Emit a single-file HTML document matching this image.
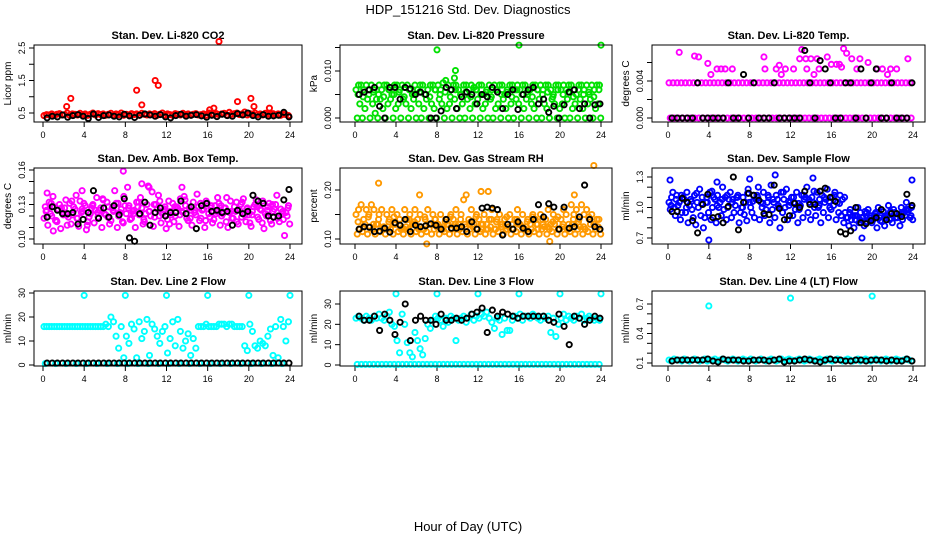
<!DOCTYPE html>
<html><head><meta charset="utf-8"><style>
body{margin:0;background:#fff;}
svg{display:block;font-family:"Liberation Sans",sans-serif;}
</style></head><body>
<svg id="chart" width="936" height="540" viewBox="0 0 936 540">
<rect width="936" height="540" fill="#fff"/>
<text x="468" y="14" text-anchor="middle" font-size="13">HDP_151216  Std. Dev. Diagnostics</text>
<text x="468" y="531" text-anchor="middle" font-size="13">Hour of Day (UTC)</text>
</svg>
<script>
// ---------- data ----------
const xTicks = [0,4,8,12,16,20,24];

const co2Main = [0.42,0.45,0.44,0.47,0.43,0.46,0.48,0.44,0.45,0.5,0.43,0.47,0.46,0.44,0.49,0.45,0.47,0.43,0.46,0.5,0.44,0.48,0.45,0.47,0.43,0.46,0.49,0.44,0.47,0.45,0.5,0.43,0.46,0.44,0.48,0.45,0.47,0.43,0.49,0.46,0.44,0.47,0.45,0.48,0.43,0.46,0.5,0.44,0.47,0.45,0.43,0.48,0.46,0.44,0.49,0.45,0.47,0.43,0.46,0.48,0.44,0.45,0.47,0.43,0.5,0.46,0.44,0.48,0.45,0.47,0.49,0.44,0.52,0.46,0.48,0.5,0.45,0.47,0.53,0.44,0.48,0.46,0.5,0.45,0.47,0.44,0.49,0.46,0.45,0.48,0.44,0.47,0.43,0.46,0.45,0.42];
const co2Black = [0.35,0.4,0.38,0.44,0.37,0.42,0.45,0.4,0.33,0.47,0.36,0.42,0.44,0.4,0.38,0.46,0.41,0.36,0.43,0.47,0.44,0.4,0.45,0.38,0.35,0.42,0.46,0.4,0.43,0.45,0.41,0.37,0.43,0.39,0.46,0.42,0.4,0.48,0.44,0.5,0.42,0.38,0.45,0.4,0.41,0.43,0.52,0.38];
const co2OutX = [2.3,2.7,9.1,9.6,10.9,11.2,17.1,16.6,20.2,18.9,22.0,20.5,16.2];
const co2OutY = [0.7,0.95,1.2,0.75,1.5,1.35,2.7,0.65,0.95,0.85,0.65,0.7,0.6];

const presA = [0.006,0.007,0.007,0.006,0.007,0.005,0.007,0.006,0.004,0.007,0.006,0.007,0.007,0.006,0.005,0.007,0.007,0.006,0.007,0.0065,0.007,0.006,0.005,0.007,0.006,0.007,0.007,0.005,0.006,0.007,0.007,0.006,0.007,0.006,0.0075,0.008,0.007,0.006,0.007,0.007,0.006,0.005,0.007,0.007,0.006,0.007,0.0065,0.006,0.007,0.007,0.005,0.006,0.007,0.006,0.007,0.006,0.007,0.007,0.005,0.006,0.007,0.007,0.006,0.007,0.006,0.007,0.007,0.005,0.006,0.007,0.007,0.006,0.007,0.006,0.007,0.007,0.006,0.005,0.007,0.007,0.006,0.007,0.006,0.007,0.007,0.006,0.005,0.007,0.007,0.006,0.007,0.005,0.007,0.006,0.007,0.007];
const presB = [0,0.003,0,0.002,0.004,0,0.003,0.001,0,0.004,0.002,0,0.003,0.004,0,0.002,0.003,0,0.004,0.003,0,0.002,0.004,0,0.003,0,0.002,0.004,0,0.003,0.002,0,0.004,0.003,0,0.002,0.003,0,0.004,0.002,0,0.003,0,0.004,0.002,0,0.003,0.004,0,0.002,0.003,0,0.004,0,0.002,0.003,0,0.004,0.002,0,0.003,0,0.004,0.003,0,0.002,0.004,0,0.003,0.002,0,0.004,0,0.003,0.002,0,0.004,0.003,0,0.002,0.003,0,0.004,0,0.002,0.003,0,0.004,0.002,0,0.003,0.004,0,0.002,0.003,0];
const presC = [0.005,0.0045,0.006,0.0055,0.005,0.0045,0.006,0.005,0.0055,0.0045,0.006,0.005,0.0055,0.005,0.0045,0.006,0.005,0.0055,0.0045,0.006,0.005,0.0055,0.0045,0.006,0.005,0.0055,0.0045,0.006,0.005,0.0055,0.0045,0.006,0.005,0.0055,0.0045,0.006,0.005,0.0055,0.0045,0.006,0.005,0.0055,0.0045,0.006,0.005,0.0055,0.0045,0.006];
const presBlack = [0.005,0.0055,0.006,0.0065,0.0025,0,0.0065,0.0065,0.004,0.0065,0.0062,0.005,0.0055,0.005,0,0,0.0015,0.0065,0.006,0.002,0.0045,0.0055,0.005,0.003,0.005,0.0045,0.0065,0.0055,0.002,0.005,0.006,0.0018,0.005,0.006,0.0065,0.003,0.004,0.0012,0.0025,0,0.0028,0.0055,0.006,0.002,0.003,0,0.0028,0.003];
const presOutX = [8.0,16.0,24.0,9.8,9.7];
const presOutY = [0.0145,0.0155,0.0155,0.0101,0.0085];

const tempA = [0.0038,0.0038,0.0038,0.0038,0.0038,0.0038,0.0038,0.0038,0.0038,0.0038,0.0038,0.0038,0.0038,0.0038,0.0038,0.0038,0.0038,0.0038,0.0038,0.0038,0.0038,0.0038,0.0038,0.0038,0.0038,0.0038,0.0038,0.0038,0.0038,0.0038,0.0038,0.0038,0.0038,0.0038,0.0038,0.0038,0.0038,0.0038,0.0038,0.0038,0.0038,0.0038,0.0038,0.0038,0.0038,0.0038,0.0038,0.0038,0.0038,0.0038,0.0038,0.0038,0.0038,0.0038,0.0038,0.0038,0.0038,0.0038,0.0038,0.0038];
const tempB = [0,0,0,0,0,0,0,0,0,0,0,0,0,0,0,0,0,0,0,0,0,0,0,0,0,0,0,0,0,0,0,0,0,0,0,0,0,0,0,0,0,0,0,0,0,0,0,0,0,0,0,0,0,0,0,0,0,0,0,0];
const tempBlack = [0,0,0,0,0,0.0038,0,0,0,0,0,0.0038,0,0,0.0047,0,0.0038,0,0,0,0.0038,0,0,0,0,0,0.0073,0.0038,0,0.0062,0.0053,0.0038,0,0,0.0038,0.0038,0,0.0053,0,0.0038,0.0053,0,0,0.0038,0,0,0,0.0038];
const tempOutX = [1.1,2.6,3.0,3.9,4.8,5.2,5.6,6.3,4.2,9.4,9.5,10.6,11.1,10.9,11.5,12.3,13.1,12.9,13.5,14.0,14.6,13.6,14.8,14.3,15.6,16.0,16.5,17.2,17.5,18.0,18.8,18.5,19.6,20.5,21.0,21.8,22.4,23.5,21.5,17.0,16.8];
const tempOutY = [0.0071,0.0067,0.0066,0.0059,0.0053,0.0053,0.0053,0.0053,0.0047,0.0066,0.0053,0.0053,0.0047,0.0057,0.0053,0.0053,0.0074,0.0064,0.0064,0.0064,0.0064,0.0053,0.0053,0.0047,0.0066,0.0058,0.0058,0.0075,0.0070,0.0064,0.0064,0.0053,0.0060,0.0053,0.0053,0.0053,0.0053,0.0064,0.0047,0.0055,0.0058];

const ambA = [0.118,0.125,0.132,0.12,0.128,0.115,0.13,0.123,0.127,0.112,0.131,0.121,0.126,0.118,0.133,0.124,0.129,0.115,0.122,0.13,0.125,0.119,0.127,0.134,0.121,0.128,0.116,0.124,0.131,0.12,0.126,0.137,0.122,0.129,0.118,0.125,0.132,0.121,0.127,0.115,0.13,0.124,0.141,0.119,0.126,0.133,0.122,0.128,0.117,0.124,0.131,0.12,0.127,0.135,0.123,0.129,0.116,0.125,0.132,0.121,0.128,0.118,0.126,0.133,0.122,0.129,0.117,0.124,0.131,0.12,0.127,0.136,0.123,0.118,0.128,0.115,0.125,0.132,0.121,0.127,0.114,0.124,0.13,0.119,0.126,0.133,0.122,0.128,0.116,0.124,0.13,0.12,0.126,0.117,0.123,0.129];
const ambB = [0.128,0.112,0.122,0.137,0.116,0.126,0.109,0.121,0.134,0.119,0.113,0.128,0.138,0.111,0.123,0.131,0.108,0.119,0.127,0.114,0.136,0.125,0.11,0.122,0.132,0.113,0.127,0.142,0.11,0.123,0.115,0.129,0.145,0.117,0.124,0.11,0.128,0.136,0.113,0.122,0.146,0.12,0.111,0.13,0.138,0.114,0.125,0.109,0.133,0.121,0.115,0.128,0.111,0.124,0.137,0.118,0.127,0.112,0.123,0.139,0.116,0.125,0.11,0.131,0.119,0.114,0.129,0.136,0.112,0.122,0.127,0.11,0.133,0.118,0.124,0.113,0.13,0.135,0.115,0.121,0.111,0.128,0.134,0.117,0.125,0.109,0.12,0.131,0.113,0.126,0.138,0.115,0.122,0.103,0.12,0.113];
const ambC = [0.124,0.131,0.116,0.127,0.121,0.133,0.118,0.126,0.112,0.129,0.123,0.135,0.119,0.125,0.131,0.114,0.127,0.122,0.132,0.117,0.124,0.13,0.12,0.126,0.113,0.128,0.121,0.134,0.118,0.125,0.131,0.116,0.127,0.122,0.129,0.115,0.124,0.132,0.119,0.126,0.121,0.128,0.114,0.125,0.13,0.118,0.124,0.127];
const ambBlack = [0.119,0.128,0.125,0.122,0.122,0.123,0.113,0.117,0.123,0.142,0.118,0.127,0.119,0.129,0.121,0.135,0.101,0.098,0.122,0.132,0.112,0.123,0.127,0.12,0.123,0.123,0.133,0.122,0.128,0.109,0.129,0.131,0.124,0.125,0.123,0.124,0.112,0.125,0.122,0.124,0.138,0.133,0.131,0.12,0.119,0.12,0.134,0.143];
const ambOutX = [7.8,9.6,3.8,10.3,13.5,0.4,1.0];
const ambOutY = [0.159,0.148,0.142,0.145,0.145,0.14,0.107];

const rhA = [0.15,0.16,0.17,0.14,0.16,0.15,0.17,0.16,0.13,0.15,0.16,0.12,0.15,0.14,0.16,0.13,0.15,0.14,0.12,0.16,0.14,0.15,0.13,0.16,0.14,0.15,0.12,0.14,0.16,0.13,0.15,0.14,0.13,0.15,0.12,0.14,0.13,0.15,0.14,0.16,0.13,0.15,0.18,0.19,0.14,0.16,0.13,0.15,0.14,0.12,0.15,0.13,0.14,0.16,0.12,0.14,0.15,0.13,0.14,0.12,0.15,0.13,0.14,0.16,0.13,0.15,0.12,0.14,0.13,0.15,0.14,0.12,0.15,0.13,0.14,0.16,0.13,0.15,0.14,0.12,0.14,0.16,0.15,0.13,0.17,0.15,0.16,0.14,0.17,0.15,0.16,0.14,0.15,0.13,0.14,0.12];
const rhB = [0.11,0.12,0.115,0.13,0.11,0.125,0.12,0.11,0.13,0.115,0.12,0.11,0.125,0.12,0.11,0.13,0.115,0.12,0.11,0.125,0.12,0.11,0.13,0.115,0.12,0.11,0.12,0.115,0.13,0.11,0.12,0.125,0.11,0.12,0.115,0.13,0.11,0.12,0.125,0.11,0.12,0.115,0.13,0.11,0.12,0.125,0.11,0.12,0.115,0.13,0.11,0.12,0.125,0.11,0.12,0.115,0.13,0.11,0.12,0.125,0.11,0.12,0.115,0.13,0.11,0.12,0.125,0.11,0.12,0.115,0.13,0.11,0.12,0.125,0.11,0.12,0.115,0.13,0.11,0.12,0.125,0.11,0.12,0.115,0.13,0.11,0.12,0.125,0.11,0.12,0.115,0.13,0.11,0.12,0.125,0.11];
const rhC = [0.135,0.125,0.145,0.13,0.14,0.125,0.135,0.145,0.13,0.12,0.14,0.135,0.125,0.145,0.13,0.14,0.125,0.135,0.145,0.13,0.14,0.125,0.135,0.145,0.13,0.12,0.14,0.135,0.125,0.145,0.13,0.14,0.125,0.135,0.145,0.13,0.14,0.125,0.135,0.145,0.13,0.12,0.14,0.135,0.125,0.145,0.13,0.14];
const rhBlack = [0.12,0.125,0.124,0.115,0.116,0.122,0.114,0.133,0.128,0.14,0.115,0.128,0.125,0.127,0.131,0.128,0.12,0.14,0.122,0.122,0.125,0.115,0.135,0.12,0.163,0.165,0.163,0.16,0.108,0.13,0.12,0.135,0.122,0.115,0.14,0.17,0.145,0.172,0.165,0.12,0.165,0.122,0.125,0.145,0.21,0.14,0.125,0.12];
const rhOutX = [2.3,23.3,12.3,13.0,6.3,21.4,7.0,19.0];
const rhOutY = [0.214,0.25,0.197,0.197,0.19,0.19,0.09,0.095];

const flowA = [1.05,1.1,1.0,1.12,1.05,0.95,1.08,1.15,1.02,0.98,1.12,1.05,1.18,1.1,0.9,1.05,1.15,1.0,1.08,1.12,1.05,1.2,1.1,1.0,1.15,1.08,1.02,1.12,0.95,1.1,1.05,1.18,1.0,1.12,1.08,1.2,1.05,1.15,0.98,1.1,1.22,1.05,1.12,1.0,1.15,1.08,1.18,1.02,1.1,1.05,1.15,0.98,1.12,1.08,1.2,1.05,1.1,1.0,1.15,1.08,1.12,1.05,1.18,1.0,1.1,1.15,1.05,1.12,1.08,0.95,0.9,0.98,0.92,0.88,1.0,0.95,0.9,0.85,0.98,0.92,0.88,0.95,1.0,0.92,0.96,0.9,1.02,0.95,0.98,0.9,0.93,1.0,0.95,1.05,0.98,1.0];
const flowB = [0.98,1.15,0.92,1.02,0.88,1.1,0.95,0.85,1.08,0.9,0.83,1.0,0.92,0.8,1.05,0.95,0.88,1.1,0.85,1.0,0.92,0.98,0.88,1.08,0.9,0.95,1.1,0.85,1.0,0.93,0.87,1.05,0.95,0.9,1.12,0.88,1.0,0.92,1.05,0.85,0.98,0.9,1.08,0.8,0.95,1.0,0.88,1.05,0.92,0.98,0.85,1.02,0.9,1.1,0.95,0.88,1.05,0.92,1.0,0.85,0.95,1.08,0.9,0.98,1.02,0.88,0.95,0.92,0.85,0.9,0.82,0.88,0.8,0.92,0.85,0.9,0.82,0.95,0.88,0.85,0.92,0.8,0.9,0.86,0.82,0.92,0.88,0.85,0.95,0.9,0.82,0.88,0.92,0.98,0.9,0.88];
const flowC = [1.02,1.08,1.12,1.0,1.06,1.14,1.04,1.1,1.16,1.02,1.08,1.12,1.05,1.1,1.0,1.14,1.06,1.1,1.04,1.12,1.08,1.02,1.15,1.06,1.1,1.04,1.12,1.08,1.16,1.02,1.1,1.06,1.12,1.04,1.1,0.95,0.92,0.88,0.96,0.9,0.94,0.87,0.92,0.96,0.9,0.94,0.98,0.92];
const flowBlack = [0.96,0.96,1.09,1.05,0.87,0.75,1.03,1.13,0.9,0.91,0.85,1.01,1.3,0.78,1.05,1.14,1.12,1.07,0.94,0.93,1.22,0.99,0.88,0.92,1.04,1.0,1.16,1.03,1.03,1.16,1.19,1.1,1.06,0.76,0.74,0.77,1.0,0.85,0.84,0.87,0.9,0.98,0.88,0.94,0.94,0.91,1.13,1.02];
const flowOutX = [0.2,4.8,10.5,14.2,23.9,4.0,8.0,19.0];
const flowOutY = [1.27,1.25,1.32,1.29,1.27,0.68,1.28,0.7];

const l2A = [16,16,16,16,16,16,16,16,16,16,16,16,16,16,16,16,16,16,16,16,16,16,16,16,17,16,20,18,12,7,16,3,12,9,17,15,3,18,11,14,19,4,17,15,12,9,14,16,5,11,18,8,19,14,7,10,13,4,11,7,16,16,16,17,16,16,16,16,17,17,17,16,17,17,16,16,16,16,8,6,17,14,8,7,10,9,8,12,15,4,16,3,19,16,10,18];
const l2Zero = [0.6,0.6,0.6,0.6,0.6,0.6,0.6,0.6,0.6,0.6,0.6,0.6,0.6,0.6,0.6,0.6,0.6,0.6,0.6,0.6,0.6,0.6,0.6,0.6];
const l2Black = [0.8,0.8,0.8,0.8,0.8,0.8,0.8,0.8,0.8,0.8,0.8,0.8,0.8,0.8,0.8,0.8,0.8,0.8,0.8,0.8,0.8,0.8,0.8,0.8,0.8,0.8,0.8,0.8,0.8,0.8,0.8,0.8,0.8,0.8,0.8,0.8,0.8,0.8,0.8,0.8,0.8,0.8,0.8,0.8,0.8,0.8,0.8,0.8];
const l2OutX = [4,8,12,16,20,24];
const l2OutY = [29,29,29,29,29,29];

const l3A = [23,24,23,22,24,23,22,24,23,25,23,22,24,26,20,19,12,6,25,20,11,6,4,16,12,8,5,13,20,18,22,24,23,22,19,23,21,24,23,12,22,23,24,21,23,25,22,24,23,25,24,26,23,21,18,23,22,15,23,17,17,22,24,23,25,22,24,24,23,25,24,23,22,24,23,24,16,23,14,20,23,25,22,24,23,22,24,23,25,22,23,24,23,22,23,22];
const l3Zero = [0.3,0.3,0.3,0.3,0.3,0.3,0.3,0.3,0.3,0.3,0.3,0.3,0.3,0.3,0.3,0.3,0.3,0.3,0.3,0.3,0.3,0.3,0.3,0.3,0.3,0.3,0.3,0.3,0.3,0.3,0.3,0.3,0.3,0.3,0.3,0.3,0.3,0.3,0.3,0.3,0.3,0.3,0.3,0.3,0.3,0.3,0.3,0.3,0.3,0.3,0.3,0.3,0.3,0.3,0.3,0.3,0.3,0.3,0.3,0.3];
const l3Black = [24,22,22,24,17,25,22,15,21,30,12,22,24,22,22,20,25,22,22,23,22,23,25,26,28,16,27,24,26,25,24,23,24,24,24,24,24,22,21,25,19,10,24,23,20,22,24,23];
const l3OutX = [4,8,12,16,20,24];
const l3OutY = [35,35,35,35,35,35];

const l4A = [0.13,0.12,0.14,0.13,0.13,0.12,0.14,0.13,0.12,0.13,0.14,0.13,0.12,0.13,0.14,0.12,0.13,0.13,0.14,0.12,0.13,0.14,0.13,0.12,0.13,0.14,0.13,0.12,0.13,0.14,0.13,0.12,0.14,0.13,0.12,0.13,0.14,0.13,0.12,0.13,0.14,0.13,0.12,0.13,0.14,0.12,0.13,0.14,0.13,0.12,0.13,0.14,0.13,0.12,0.13,0.14,0.13,0.12,0.13,0.14,0.13,0.12,0.14,0.13,0.12,0.13,0.14,0.13,0.12,0.13,0.14,0.13,0.12,0.13,0.14,0.12,0.13,0.14,0.13,0.12,0.13,0.14,0.13,0.12,0.13,0.14,0.13,0.12,0.13,0.14,0.13,0.12,0.13,0.14,0.13,0.12];
const l4Black = [0.12,0.13,0.13,0.13,0.13,0.13,0.13,0.14,0.12,0.11,0.14,0.13,0.13,0.13,0.12,0.12,0.13,0.13,0.13,0.12,0.13,0.14,0.11,0.12,0.12,0.13,0.14,0.13,0.12,0.11,0.13,0.14,0.13,0.13,0.12,0.12,0.13,0.13,0.12,0.13,0.13,0.13,0.12,0.13,0.12,0.12,0.14,0.12];
const l4OutX = [4,12,20];
const l4OutY = [0.68,0.76,0.78];

// ---------- layout ----------
const cols = [{l:34,r:302,x0:43,x24:290},{l:340,r:612,x0:355,x24:601},{l:652,r:925,x0:668,x24:913}];
const rows = [{t:45,b:122},{t:168,b:244},{t:291,b:366}];
const panels = [
 {name:'co2',title:'Stan. Dev. Li-820 CO2',ylab:'Licor ppm',c:0,r:0,ya:[0.5,113],yb:[2.5,48],ticks:[0.5,1,1.5,2,2.5],labels:['0.5','','1.5','','2.5'],color:'#ff0000',series:[co2Main],black:co2Black,ox:co2OutX,oy:co2OutY},
 {name:'pressure',title:'Stan. Dev. Li-820 Pressure',ylab:'kPa',c:1,r:0,ya:[0,118],yb:[0.01,71],ticks:[0,0.005,0.01,0.015],labels:['0.000','','0.010',''],color:'#00e000',series:[presA,presB,presC],black:presBlack,ox:presOutX,oy:presOutY},
 {name:'temp',title:'Stan. Dev. Li-820 Temp.',ylab:'degrees C',c:2,r:0,ya:[0,118],yb:[0.004,81],ticks:[0,0.002,0.004,0.006],labels:['0.000','','0.004',''],color:'#ff00ff',series:[tempA,tempB],black:tempBlack,ox:tempOutX,oy:tempOutY},
 {name:'amb-temp',title:'Stan. Dev. Amb. Box Temp.',ylab:'degrees C',c:0,r:1,ya:[0.10,239],yb:[0.16,170],ticks:[0.10,0.11,0.12,0.13,0.14,0.15,0.16],labels:['0.10','','','0.13','','','0.16'],color:'#ff00ff',series:[ambA,ambB,ambC],black:ambBlack,ox:ambOutX,oy:ambOutY},
 {name:'gas-rh',title:'Stan. Dev. Gas Stream RH',ylab:'percent',c:1,r:1,ya:[0.10,239],yb:[0.20,190],ticks:[0.10,0.15,0.20],labels:['0.10','','0.20'],color:'#ff9900',series:[rhA,rhB,rhC],black:rhBlack,ox:rhOutX,oy:rhOutY},
 {name:'sample-flow',title:'Stan. Dev. Sample Flow',ylab:'ml/min',c:2,r:1,ya:[0.7,238],yb:[1.3,177],ticks:[0.7,0.8,0.9,1.0,1.1,1.2,1.3],labels:['0.7','','','1.0','','','1.3'],color:'#0000ff',series:[flowA,flowB,flowC],black:flowBlack,ox:flowOutX,oy:flowOutY},
 {name:'line2-flow',title:'Stan. Dev. Line 2 Flow',ylab:'ml/min',c:0,r:2,ya:[0,365],yb:[30,293],ticks:[0,10,20,30],labels:['0','10','20','30'],color:'#00ffff',series:[l2A,l2Zero],black:l2Black,ox:l2OutX,oy:l2OutY},
 {name:'line3-flow',title:'Stan. Dev. Line 3 Flow',ylab:'ml/min',c:1,r:2,ya:[0,365],yb:[30,304],ticks:[0,10,20,30],labels:['0','10','20','30'],color:'#00ffff',series:[l3A,l3Zero],black:l3Black,ox:l3OutX,oy:l3OutY},
 {name:'line4-flow',title:'Stan. Dev. Line 4 (LT) Flow',ylab:'ml/min',c:2,r:2,ya:[0.1,363],yb:[0.7,304],ticks:[0.1,0.2,0.3,0.4,0.5,0.6,0.7],labels:['0.1','','','0.4','','','0.7'],color:'#00ffff',series:[l4A],black:l4Black,ox:l4OutX,oy:l4OutY}
];

const NS='http://www.w3.org/2000/svg';
const svg=document.getElementById('chart');
function mk(tag,attrs,parent){const e=document.createElementNS(NS,tag);for(const k in attrs)e.setAttribute(k,attrs[k]);parent.appendChild(e);return e;}
const offsets=[0.1,0.22,0.3];

panels.forEach(p=>{
  const C=cols[p.c],R=rows[p.r];
  const g=mk('g',{},svg);
  
  
  const xs=t=>C.x0+t/24*(C.x24-C.x0);
  const ys=v=>p.ya[1]+(v-p.ya[0])/(p.yb[0]-p.ya[0])*(p.yb[1]-p.ya[1]);
  const t=mk('text',{x:(C.l+C.r)/2,y:R.t-6,'text-anchor':'middle','font-size':'11','font-weight':'bold'},g);
  t.textContent=p.title;
  
  
  const yl=mk('text',{x:0,y:0,'text-anchor':'middle','font-size':'10',transform:`translate(${C.l-23},${(R.t+R.b)/2}) rotate(-90)`},g);
  yl.textContent=p.ylab;
  
  
  xTicks.forEach(v=>{
    const x=xs(v);
    mk('line',{x1:x,x2:x,y1:R.b,y2:R.b+5,stroke:'#000','stroke-width':1},g);
    const tl=mk('text',{x:x,y:R.b+16,'text-anchor':'middle','font-size':'9'},g);
    tl.textContent=String(v);
    
    
  });
  p.ticks.forEach((v,i)=>{
    const y=ys(v);
    mk('line',{x1:C.l-5,x2:C.l,y1:y,y2:y,stroke:'#000','stroke-width':1},g);
    if(p.labels[i]){
      const tl=mk('text',{x:0,y:0,'text-anchor':'middle','font-size':'9',transform:`translate(${C.l-9},${y}) rotate(-90)`},g);
      tl.textContent=p.labels[i];
      
      
    }
  });
  const dot=(x,y,col,name)=>{
    const c=mk('circle',{cx:x,cy:y,r:2.6,fill:'none',stroke:col,'stroke-width':1.9},g);
    
    
  };
  p.series.forEach((s,k)=>{s.forEach((v,i)=>dot(xs(i*24/s.length+offsets[k%3]),ys(v),p.color,'data-point'));});
  p.ox.forEach((x,i)=>dot(xs(x),ys(p.oy[i]),p.color,'outlier-point'));
  p.black.forEach((v,i)=>dot(xs(i*24/p.black.length+0.4),ys(v),'#000','average-point'));
  const box=mk('rect',{x:C.l,y:R.t,width:C.r-C.l,height:R.b-R.t,fill:'none',stroke:'#000','stroke-width':1},g);
  
  
});
</script>
</body></html>
